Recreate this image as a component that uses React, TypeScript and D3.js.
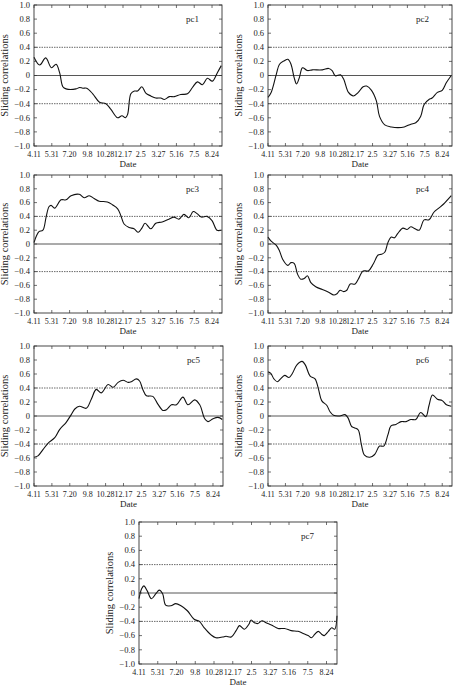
import React from "react";
import * as d3 from "d3";

// day offsets from 4.11, one tick every 50 days
const tickDays = [0, 50, 100, 150, 200, 250, 300, 350, 400, 450, 500];
const tickLabels = ["4.11", "5.31", "7.20", "9.8", "10.28", "12.17", "2.5", "3.27", "5.16", "7.5", "8.24"];
const yTicks = [-1, -0.8, -0.6, -0.4, -0.2, 0, 0.2, 0.4, 0.6, 0.8, 1];

const pc1 = [[0,0.26],[16,0.15],[33,0.25],[49,0.11],[62,0.16],[72,0.04],[81,-0.16],[90,-0.19],[118,-0.19],[128,-0.17],[137,-0.18],[148,-0.18],[165,-0.26],[184,-0.38],[202,-0.40],[216,-0.48],[235,-0.60],[247,-0.57],[257,-0.60],[263,-0.55],[272,-0.26],[282,-0.22],[291,-0.22],[303,-0.16],[314,-0.25],[328,-0.29],[342,-0.32],[356,-0.32],[366,-0.34],[380,-0.30],[394,-0.30],[412,-0.27],[431,-0.26],[445,-0.17],[459,-0.09],[473,-0.13],[487,-0.04],[501,-0.08],[515,0.04],[526,0.14]];
const pc2 = [[0,-0.31],[9,-0.24],[24,0.02],[33,0.16],[47,0.21],[57,0.23],[66,0.16],[75,-0.03],[82,-0.12],[90,-0.03],[99,0.11],[113,0.07],[127,0.08],[156,0.08],[174,0.10],[184,0.07],[193,-0.005],[208,0.01],[217,-0.05],[231,-0.24],[245,-0.29],[259,-0.24],[273,-0.16],[283,-0.15],[297,-0.21],[311,-0.36],[320,-0.58],[335,-0.70],[354,-0.73],[373,-0.74],[391,-0.73],[410,-0.69],[424,-0.67],[438,-0.58],[448,-0.41],[462,-0.34],[471,-0.32],[486,-0.24],[500,-0.21],[512,-0.10],[526,0.0]];
const pc3 = [[0,0.02],[7,0.12],[14,0.18],[25,0.20],[34,0.39],[42,0.54],[48,0.56],[58,0.52],[76,0.64],[90,0.64],[104,0.70],[127,0.72],[141,0.67],[155,0.70],[169,0.66],[183,0.62],[206,0.61],[220,0.57],[235,0.51],[244,0.41],[253,0.29],[267,0.24],[281,0.22],[293,0.17],[303,0.23],[312,0.30],[328,0.22],[342,0.30],[360,0.32],[379,0.36],[393,0.39],[407,0.36],[421,0.43],[435,0.38],[447,0.47],[458,0.44],[470,0.39],[486,0.40],[500,0.34],[514,0.20],[526,0.20]];
const pc4 = [[0,0.10],[9,0.04],[24,-0.02],[33,-0.10],[42,-0.22],[57,-0.31],[66,-0.27],[75,-0.28],[85,-0.44],[94,-0.51],[104,-0.50],[113,-0.46],[123,-0.56],[137,-0.62],[156,-0.66],[174,-0.70],[189,-0.74],[198,-0.72],[207,-0.67],[217,-0.69],[226,-0.67],[236,-0.58],[250,-0.58],[259,-0.51],[273,-0.39],[288,-0.39],[302,-0.29],[316,-0.16],[325,-0.15],[335,-0.12],[344,0.02],[354,0.10],[363,0.09],[372,0.15],[387,0.23],[399,0.21],[410,0.25],[422,0.22],[434,0.20],[448,0.35],[462,0.35],[476,0.46],[490,0.52],[504,0.58],[526,0.70]];
const pc5 = [[0,-0.59],[11,-0.57],[25,-0.48],[39,-0.39],[58,-0.31],[72,-0.19],[90,-0.09],[104,0.02],[114,0.10],[127,0.14],[146,0.11],[160,0.24],[174,0.38],[188,0.33],[207,0.45],[221,0.41],[235,0.48],[249,0.51],[263,0.48],[272,0.49],[286,0.53],[295,0.50],[304,0.38],[314,0.29],[332,0.28],[346,0.17],[360,0.08],[370,0.09],[384,0.16],[398,0.16],[416,0.27],[430,0.16],[449,0.23],[463,0.16],[477,-0.04],[486,-0.08],[500,-0.04],[514,-0.02],[526,-0.05]];
const pc6 = [[0,0.63],[8,0.61],[17,0.53],[27,0.49],[36,0.53],[48,0.58],[60,0.55],[69,0.60],[83,0.73],[98,0.78],[107,0.73],[121,0.57],[135,0.53],[145,0.38],[154,0.22],[169,0.15],[178,0.06],[188,0.01],[206,0.0],[221,0.02],[230,-0.03],[240,-0.15],[249,-0.17],[259,-0.20],[268,-0.41],[277,-0.56],[292,-0.59],[306,-0.55],[320,-0.43],[332,-0.43],[344,-0.27],[353,-0.14],[367,-0.12],[382,-0.08],[396,-0.08],[410,-0.05],[424,-0.05],[438,0.05],[453,-0.01],[462,0.15],[472,0.30],[486,0.24],[500,0.22],[512,0.16],[526,0.14]];
const pc7 = [[0,-0.08],[7,0.06],[13,0.10],[22,0.03],[33,-0.08],[45,-0.01],[54,0.04],[63,-0.01],[71,-0.17],[85,-0.18],[98,-0.15],[112,-0.18],[129,-0.25],[147,-0.37],[161,-0.40],[174,-0.49],[192,-0.59],[205,-0.63],[223,-0.62],[232,-0.61],[246,-0.62],[259,-0.53],[268,-0.46],[281,-0.51],[293,-0.44],[299,-0.38],[308,-0.42],[317,-0.43],[328,-0.39],[339,-0.42],[353,-0.45],[371,-0.50],[388,-0.50],[406,-0.53],[424,-0.54],[438,-0.57],[451,-0.60],[460,-0.63],[469,-0.58],[478,-0.54],[487,-0.58],[494,-0.60],[505,-0.54],[514,-0.49],[522,-0.51],[528,-0.32]];

const panels = [
  { name: "pc1", data: pc1, left: 34, right: 222, top: 5, bottom: 146 },
  { name: "pc2", data: pc2, left: 268, right: 452, top: 5, bottom: 146 },
  { name: "pc3", data: pc3, left: 34, right: 222, top: 175, bottom: 313 },
  { name: "pc4", data: pc4, left: 268, right: 452, top: 175, bottom: 313 },
  { name: "pc5", data: pc5, left: 34, right: 223, top: 346, bottom: 486 },
  { name: "pc6", data: pc6, left: 268, right: 452, top: 346, bottom: 486 },
  { name: "pc7", data: pc7, left: 139, right: 337, top: 522, bottom: 664 },
];

const font = "'Liberation Serif', 'Times New Roman', serif";
const ink = "#222";

function Panel({ p }) {
  const x = d3.scaleLinear().domain([0, 528]).range([p.left, p.right]);
  const y = d3.scaleLinear().domain([-1, 1]).range([p.bottom, p.top]);
  const line = d3
    .line()
    .x((d) => x(d[0]))
    .y((d) => y(d[1]))
    .curve(d3.curveCatmullRom.alpha(0.5));
  const tl = 3;
  const midY = (p.top + p.bottom) / 2;

  return (
    <g>
      {/* reference lines */}
      <line x1={p.left} x2={p.right} y1={y(0)} y2={y(0)} stroke="#444" strokeWidth={0.9} />
      {[0.4, -0.4].map((v) => (
        <line key={v} x1={p.left} x2={p.right} y1={y(v)} y2={y(v)} stroke="#444" strokeWidth={0.8} strokeDasharray="1.5,1" />
      ))}
      <path d={line(p.data)} fill="none" stroke="#111" strokeWidth={1.1} />
      <rect x={p.left} y={p.top} width={p.right - p.left} height={p.bottom - p.top} fill="none" stroke="#333" strokeWidth={0.9} />
      {yTicks.map((v) => (
        <g key={v}>
          <line x1={p.left} x2={p.left + tl} y1={y(v)} y2={y(v)} stroke="#333" strokeWidth={0.7} />
          <line x1={p.right} x2={p.right - tl} y1={y(v)} y2={y(v)} stroke="#333" strokeWidth={0.7} />
          <text x={p.left - 4} y={y(v)} dy="0.33em" textAnchor="end" fontSize={8.5} fill={ink} fontFamily={font}>
            {v === 0 ? "0" : d3.format(".1f")(v).replace("-", "\u2212")}
          </text>
        </g>
      ))}
      {tickDays.map((t, i) => (
        <g key={t}>
          <line x1={x(t)} x2={x(t)} y1={p.bottom} y2={p.bottom - tl} stroke="#333" strokeWidth={0.7} />
          <line x1={x(t)} x2={x(t)} y1={p.top} y2={p.top + tl} stroke="#333" strokeWidth={0.7} />
          <text x={x(t)} y={p.bottom + 11} textAnchor="middle" fontSize={8} fill={ink} fontFamily={font}>
            {tickLabels[i]}
          </text>
        </g>
      ))}
      <text x={(p.left + p.right) / 2} y={p.bottom + 21} textAnchor="middle" fontSize={9} fill={ink} fontFamily={font}>
        Date
      </text>
      <text
        transform={`translate(${p.left - 29},${midY}) rotate(-90)`}
        textAnchor="middle"
        dy="0.33em"
        fontSize={10.5}
        fill={ink}
        fontFamily={font}
      >
        Sliding correlations
      </text>
      <text x={p.right - 36} y={p.top + 17} fontSize={9} fill={ink} fontFamily={font}>
        {p.name}
      </text>
    </g>
  );
}

export default function App() {
  return (
    <svg
      width={453}
      height={686}
      style={{ position: "absolute", left: 0, top: 0, background: "#fff" }}
    >
      {panels.map((p) => (
        <Panel key={p.name} p={p} />
      ))}
    </svg>
  );
}
